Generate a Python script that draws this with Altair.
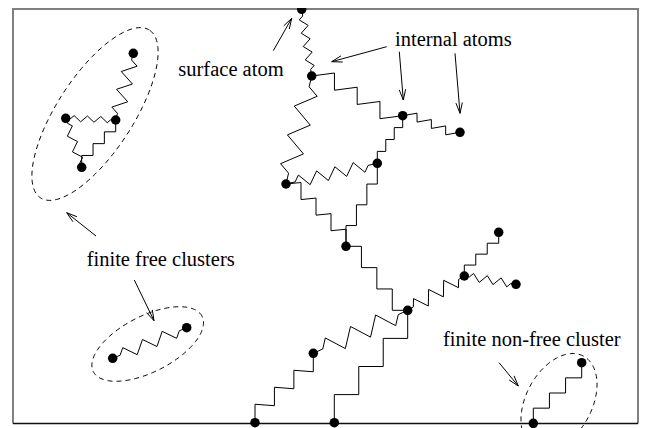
import math
import altair as alt
import pandas as pd

# ---- atoms (positions, page pixels) ----
atom_x = [301.7, 311.7, 402.7, 460.0, 377.3, 286.0, 346.0, 407.7, 464.3, 498.7, 516.0,
          313.3, 255.0, 334.3, 533.3, 581.7, 133.3, 65.7, 115.7, 81.7, 112.7, 186.7]
atom_y = [9.3, 76.0, 115.7, 132.3, 163.3, 184.0, 246.3, 310.3, 276.0, 232.3, 284.3,
          353.3, 422.7, 422.7, 423.3, 362.7, 53.3, 118.3, 120.0, 167.3, 358.3, 327.7]

# ---- springs ----
# kind "z": zigzag (n = vertices, h = amplitude, sgn = side of first tooth)
# kind "s": staircase (n = horizontal steps, m = vertical steps, h = overshoot, first = "h"/"v")
bond_a = [0, 1, 1, 2, 2, 5, 5, 4, 6, 7, 8, 8, 7, 11, 7, 14, 16, 17, 17, 18, 20]
bond_b = [1, 2, 5, 3, 4, 4, 6, 6, 7, 8, 9, 10, 11, 12, 13, 15, 18, 18, 19, 19, 21]
bond_kind = ["z", "s", "z", "s", "s", "z", "s", "s", "s", "z", "s", "z", "z", "s", "s", "s",
             "z", "z", "z", "s", "z"]
bond_n = [8, 4, 6, 4, 3, 8, 4, 3, 4, 6, 3, 6, 6, 3, 3, 3, 6, 6, 5, 3, 6]
bond_m = [0, 3, 0, 3, 4, 0, 4, 4, 3, 0, 4, 0, 0, 4, 4, 4, 0, 0, 0, 4, 0]
bond_h = [4, 3, 10, 2.5, 0, 6, 1.5, 0, 0, 7, 0, 4, 9, 1.5, 0, 0, 7, 3, 4, 0, 6]
bond_sgn = [1, 0, -1, 0, 0, -1, 0, 0, 0, -1, 0, -1, -1, 0, 0, 0, -1, -1, -1, 0, -1]
bond_first = ["", "h", "", "h", "v", "", "h", "v", "h", "", "v", "", "", "v", "v", "v",
              "", "", "", "v", ""]

# ---- dashed ellipses: centre, semi-axes, tilt (deg) ----
ell_cx = [95.0, 147.7, 559.0]
ell_cy = [114.0, 344.0, 402.0]
ell_a = [100.0, 61.0, 52.0]
ell_b = [38.0, 28.0, 33.0]
ell_ang = [57.0, 27.0, 62.0]

# ---- arrows: tail -> tip ----
arr_x0 = [273.3, 386.7, 399.3, 455.0, 96.0, 134.3, 499.0]
arr_y0 = [50.7, 46.7, 51.7, 53.3, 236.0, 280.0, 362.7]
arr_x1 = [291.7, 331.7, 403.3, 460.0, 66.7, 154.0, 518.3]
arr_y1 = [18.3, 61.7, 100.0, 113.3, 212.7, 320.7, 386.0]

# ---- labels ----
lab_text = ["surface atom", "internal atoms", "finite free clusters", "finite non-free cluster"]
lab_x = [178.3, 395.0, 86.7, 443.0]
lab_y = [75.7, 45.7, 266.0, 346.0]

# ---- frame ----
frame_left, frame_right, frame_top, frame_bottom = 13.0, 638.0, 9.0, 423.5

rows_spring, rows_arrow, rows_ell, rows_frame = [], [], [], []


def add_poly(rows, gid, pts):
    for i, (px, py) in enumerate(pts):
        rows.append({"x": px, "y": py, "g": gid, "o": i})


def zigzag(x0, y0, x1, y1, n, h, sgn):
    dx, dy = x1 - x0, y1 - y0
    L = math.hypot(dx, dy)
    ux, uy = dx / L, dy / L
    nx, ny = -uy, ux
    lead = max(3.0, 0.1 * L)
    pts = [(x0, y0), (x0 + ux * lead, y0 + uy * lead)]
    step = (L - 2 * lead) / n
    for j in range(n):
        t = lead + (j + 0.5) * step
        s = sgn * (h if j % 2 == 0 else -h)
        pts.append((x0 + ux * t + nx * s, y0 + uy * t + ny * s))
    pts += [(x0 + ux * (L - lead), y0 + uy * (L - lead)), (x1, y1)]
    return pts


def staircase(x0, y0, x1, y1, mh, mv, o, first):
    dx, dy = x1 - x0, y1 - y0
    sy = 1.0 if dy >= 0 else -1.0
    hseg = (dx / mh, -sy * o)
    vseg = (0.0, (dy + sy * o * mh) / mv)
    seq = []
    ch, cv = mh, mv
    cur = first
    while ch + cv > 0:
        if cur == "h" and ch > 0:
            seq.append(hseg)
            ch -= 1
        elif cur == "v" and cv > 0:
            seq.append(vseg)
            cv -= 1
        cur = "v" if cur == "h" else "h"
    pts = [(x0, y0)]
    cx, cy = x0, y0
    for sx_, sy_ in seq:
        cx, cy = cx + sx_, cy + sy_
        pts.append((cx, cy))
    pts[-1] = (x1, y1)
    return pts


for k in range(len(bond_a)):
    x0, y0 = atom_x[bond_a[k]], atom_y[bond_a[k]]
    x1, y1 = atom_x[bond_b[k]], atom_y[bond_b[k]]
    if bond_kind[k] == "z":
        pts = zigzag(x0, y0, x1, y1, bond_n[k], bond_h[k], bond_sgn[k])
    else:
        pts = staircase(x0, y0, x1, y1, bond_n[k], bond_m[k], bond_h[k], bond_first[k])
    add_poly(rows_spring, "s%d" % k, pts)

for k in range(len(arr_x0)):
    x0, y0, x1, y1 = arr_x0[k], arr_y0[k], arr_x1[k], arr_y1[k]
    add_poly(rows_arrow, "a%d" % k, [(x0, y0), (x1, y1)])
    L = math.hypot(x1 - x0, y1 - y0)
    ux, uy = (x1 - x0) / L, (y1 - y0) / L
    hl, ha = 11.0, math.radians(17)
    for sgn in (1, -1):
        c, s = math.cos(sgn * ha), math.sin(sgn * ha)
        bx = -(ux * c - uy * s) * hl
        by = -(ux * s + uy * c) * hl
        add_poly(rows_arrow, "a%d_%d" % (k, sgn), [(x1 + bx, y1 + by), (x1, y1)])

for k in range(len(ell_cx)):
    th = math.radians(ell_ang[k])
    pts = []
    for i in range(181):
        t = 2 * math.pi * i / 180
        ex = ell_cx[k] + ell_a[k] * math.cos(th) * math.cos(t) - ell_b[k] * math.sin(th) * math.sin(t)
        ey = ell_cy[k] - (ell_a[k] * math.sin(th) * math.cos(t) + ell_b[k] * math.cos(th) * math.sin(t))
        pts.append((ex, ey))
    add_poly(rows_ell, "e%d" % k, pts)

add_poly(rows_frame, "f0", [(frame_left, frame_bottom), (frame_left, frame_top),
                             (frame_right, frame_top), (frame_right, frame_bottom)])
bottom_rows = []
add_poly(bottom_rows, "b0", [(frame_left, frame_bottom), (frame_right, frame_bottom)])

xsc = alt.Scale(domain=[8, 639], nice=False, zero=False)
ysc = alt.Scale(domain=[8, 428], nice=False, zero=False, reverse=True)
X = alt.X("x:Q", scale=xsc, axis=None)
Y = alt.Y("y:Q", scale=ysc, axis=None)


def lines(rows, color, width, dash=None):
    kw = dict(color=color, strokeWidth=width, clip=True)
    if dash is not None:
        kw["strokeDash"] = dash
    return alt.Chart(pd.DataFrame(rows)).mark_line(**kw).encode(
        x=X, y=Y, detail="g:N", order="o:Q")


frame = lines(rows_frame, "#808080", 2)
bottom = lines(bottom_rows, "#111111", 1.6)
springs = lines(rows_spring, "black", 1)
arrows = lines(rows_arrow, "black", 1)
ellipses = lines(rows_ell, "black", 1, [5, 4])

atoms = alt.Chart(pd.DataFrame({"x": atom_x, "y": atom_y})).mark_circle(
    color="black", opacity=1, size=90, clip=True).encode(x=X, y=Y)

labels = alt.Chart(pd.DataFrame({"x": lab_x, "y": lab_y, "t": lab_text})).mark_text(
    align="left", baseline="alphabetic", font="Liberation Serif", fontSize=20.5,
    color="black").encode(x=X, y=Y, text="t:N")

chart = alt.layer(frame, bottom, ellipses, springs, arrows, atoms, labels).properties(
    width=631, height=420, padding=0, autosize="none"
).configure_view(strokeWidth=0)

chart.save("out.html", embed_options={"renderer": "svg", "actions": False})
